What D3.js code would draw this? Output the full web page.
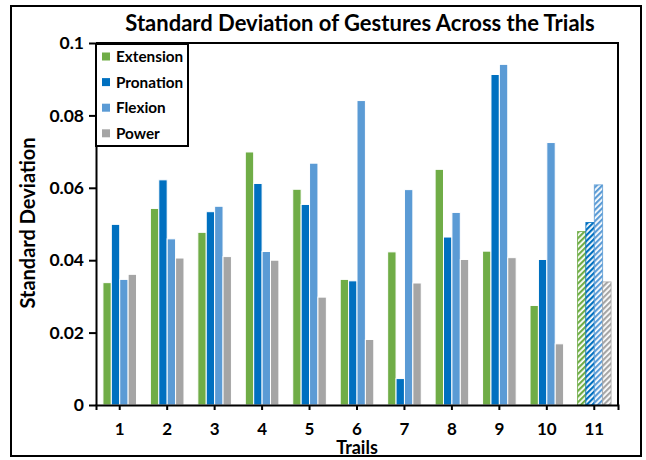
<!DOCTYPE html>
<html lang="en">
<head>
	<meta charset="utf-8">
	<title>Standard Deviation of Gestures</title>
	<script src="https://d3js.org/d3.v7.min.js"></script>
	<style type="text/css">
		body { margin: 0; background: white; }
		text { font-family: Lato, "Open Sans", sans-serif; font-weight: bold; fill: black; }
	</style>
</head>
<body>
	<svg id="chart-svg"></svg>

	<script type="text/javascript">
		// data
		let trials = ['1', '2', '3', '4', '5', '6', '7', '8', '9', '10', '11']
		let gestures = ['Extension', 'Pronation', 'Flexion', 'Power']
		let extension = [0.0338, 0.0543, 0.0477, 0.0699, 0.0596, 0.0347, 0.0423, 0.0651, 0.0425, 0.0275, 0.0479]
		let pronation = [0.0499, 0.0622, 0.0534, 0.0612, 0.0554, 0.0343, 0.0073, 0.0464, 0.0913, 0.0402, 0.0504]
		let flexion = [0.0347, 0.0459, 0.0549, 0.0424, 0.0668, 0.0841, 0.0595, 0.0532, 0.0941, 0.0725, 0.0608]
		let power = [0.0361, 0.0406, 0.041, 0.04, 0.0298, 0.0181, 0.0337, 0.0402, 0.0407, 0.0169, 0.034]
		let yTicks = [0, 0.02, 0.04, 0.06, 0.08, 0.1]
		let hatchedTrial = '11'

		let colors = {
			Extension: '#70ad47',
			Pronation: '#0070c0',
			Flexion: '#5b9bd5',
			Power: '#a5a5a5'
		}
		let seriesValues = {
			Extension: extension,
			Pronation: pronation,
			Flexion: flexion,
			Power: power
		}

		let w = 646
		let h = 460
		let plotLeft = 96, plotRight = 618, plotTop = 43, plotBottom = 405

		let svg = d3.select('#chart-svg')
			.attr('width', w)
			.attr('height', h)

		// hatch patterns for the last trial
		let defs = svg.append('defs')
		gestures.forEach(function(g) {
			let p = defs.append('pattern')
				.attr('id', 'hatch-' + g)
				.attr('patternUnits', 'userSpaceOnUse')
				.attr('width', 4)
				.attr('height', 4)
				.attr('patternTransform', 'rotate(45)')
			p.append('rect').attr('width', 4).attr('height', 4).attr('fill', 'white')
			p.append('rect').attr('width', 2.2).attr('height', 4).attr('fill', colors[g])
		})

		// outer frame
		svg.append('rect')
			.attr('x', 11).attr('y', 6)
			.attr('width', 630).attr('height', 450)
			.attr('fill', 'white')
			.attr('stroke', 'black')
			.attr('stroke-width', 2)

		svg.append('text')
			.attr('x', 360).attr('y', 31)
			.attr('text-anchor', 'middle')
			.attr('font-size', 22)
			.text('Standard Deviation of Gestures Across the Trials')

		let xScale = d3.scaleBand()
			.domain(trials)
			.range([plotLeft, plotRight])

		let xInner = d3.scaleBand()
			.domain(gestures)
			.range([0, 33.6])

		let yScale = d3.scaleLinear()
			.domain([0, 0.1])
			.range([plotBottom, plotTop])

		let rows = []
		trials.forEach(function(t, i) {
			gestures.forEach(function(g) {
				rows.push({ trial: t, gesture: g, value: seriesValues[g][i] })
			})
		})

		let offset = (xScale.bandwidth() - 33.6) / 2

		svg.append('g')
			.selectAll('rect')
			.data(rows)
			.enter()
			.append('rect')
			.attr('x', d => xScale(d.trial) + offset + xInner(d.gesture))
			.attr('y', d => yScale(d.value))
			.attr('width', xInner.bandwidth())
			.attr('height', d => plotBottom - yScale(d.value))
			.attr('fill', d => d.trial === hatchedTrial ? 'url(#hatch-' + d.gesture + ')' : colors[d.gesture])
			.attr('stroke', d => d.trial === hatchedTrial ? colors[d.gesture] : 'white')
			.attr('stroke-width', d => d.trial === hatchedTrial ? 0.8 : 1)

		// plot frame: top and right
		svg.append('path')
			.attr('d', 'M' + plotLeft + ',' + plotTop + 'H' + plotRight + 'V' + plotBottom)
			.attr('fill', 'none')
			.attr('stroke', 'black')
			.attr('stroke-width', 2)

		let yAxis = d3.axisLeft(yScale)
			.tickValues(yTicks)
			.tickFormat(d => d === 0 ? '0' : String(+d.toFixed(2)))
			.tickSizeInner(7)
			.tickSizeOuter(0)
			.tickPadding(5)

		let gy = svg.append('g')
			.attr('transform', 'translate(' + plotLeft + ',0)')
			.call(yAxis)
		gy.selectAll('path, line').attr('stroke', 'black').attr('stroke-width', 2)
		gy.selectAll('text').attr('font-size', 17.5).attr('font-family', null)

		let xAxis = d3.axisBottom(xScale)
			.tickSizeInner(5)
			.tickSizeOuter(5)
			.tickPadding(13)

		let gx = svg.append('g')
			.attr('transform', 'translate(0,' + plotBottom + ')')
			.call(xAxis)
		gx.selectAll('path, line').attr('stroke', 'black').attr('stroke-width', 2)
		gx.selectAll('text').attr('font-size', 17).attr('font-family', null)

		svg.append('text')
			.attr('x', 357).attr('y', 454)
			.attr('text-anchor', 'middle')
			.attr('font-size', 18)
			.text('Trails')

		svg.append('text')
			.attr('transform', 'translate(35,223) rotate(-90)')
			.attr('text-anchor', 'middle')
			.attr('font-size', 20)
			.text('Standard Deviation')

		// legend
		let legend = svg.append('g')
		legend.append('rect')
			.attr('x', 96).attr('y', 44)
			.attr('width', 92).attr('height', 102)
			.attr('fill', 'white')
			.attr('stroke', 'black')
			.attr('stroke-width', 2)

		let item = legend.selectAll('g.item')
			.data(gestures)
			.enter()
			.append('g')
			.attr('class', 'item')
			.attr('transform', (d, i) => 'translate(102,' + (56.5 + i * 25.6) + ')')
		item.append('rect')
			.attr('x', 0).attr('y', -4)
			.attr('width', 8).attr('height', 8)
			.attr('fill', d => colors[d])
		item.append('text')
			.attr('x', 14).attr('y', 5.5)
			.attr('font-size', 15.3)
			.text(d => d)
	</script>
</body>
</html>
